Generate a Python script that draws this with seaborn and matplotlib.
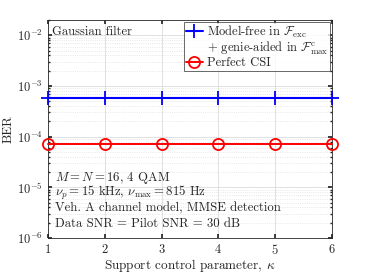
import numpy as np
import pandas as pd
import matplotlib
matplotlib.use('Agg')
import matplotlib.pyplot as plt
import seaborn as sns
from matplotlib.lines import Line2D
from matplotlib.ticker import LogLocator, NullFormatter

# ---- data ----
kappa = [1, 2, 3, 4, 5, 6]
ber_model_free = [5.9e-4, 5.9e-4, 5.9e-4, 5.9e-4, 5.9e-4, 5.9e-4]
ber_perfect = [7.0e-5, 7.0e-5, 7.0e-5, 7.0e-5, 7.0e-5, 7.0e-5]

sns.set_theme(style='ticks')
plt.rcParams['font.family'] = ['serif']
plt.rcParams['font.serif'] = ['cmr10', 'DejaVu Serif']
plt.rcParams['mathtext.fontset'] = 'cm'
plt.rcParams['axes.formatter.use_mathtext'] = True
plt.rcParams['axes.unicode_minus'] = False

df1 = pd.DataFrame({'kappa': kappa, 'ber': ber_model_free})
df2 = pd.DataFrame({'kappa': kappa, 'ber': ber_perfect})

fig = plt.figure(figsize=(3.67, 2.75), dpi=100)
ax = fig.add_axes([48 / 367, 1 - 238 / 275, 284 / 367, 218 / 275])

sns.lineplot(data=df1, x='kappa', y='ber', ax=ax, color='#0000ff', marker='+',
             markersize=10, markeredgewidth=1.3, markeredgecolor='#0000ff',
             linewidth=1.5, clip_on=False,
             label='Model-free in $\\mathcal{F}_{\\rm exc}$', zorder=5)
sns.lineplot(data=df2, x='kappa', y='ber', ax=ax, color='#ff0000', marker='o',
             markersize=8, markerfacecolor='none', markeredgewidth=1.3,
             markeredgecolor='#ff0000', linewidth=1.4, clip_on=False,
             label='Perfect CSI', zorder=5)

ax.set_yscale('log')
ax.set_xlim(1, 6)
ax.set_ylim(1e-6, 2e-2)
ax.set_xticks(kappa)
ax.yaxis.set_major_locator(LogLocator(base=10, numticks=10))
ax.yaxis.set_minor_locator(LogLocator(base=10, subs=np.arange(2, 10), numticks=20))
ax.yaxis.set_minor_formatter(NullFormatter())

ax.grid(True, which='major', color='#dcdcdc', linewidth=0.6)
ax.grid(True, which='minor', axis='y', color='#e0e0e0', linestyle=':', linewidth=0.6)
ax.tick_params(which='both', direction='in', top=True, right=True, labelsize=9,
               colors='#262626', length=3)
ax.tick_params(which='minor', length=1.5)
for s in ax.spines.values():
    s.set_color('#262626')
    s.set_linewidth(0.6)

ax.set_xlabel('Support control parameter, $\\kappa$', fontsize=9.5, labelpad=0)
ax.set_ylabel('BER', fontsize=9.5, labelpad=2)

handles, labels = ax.get_legend_handles_labels()
blank = Line2D([], [], linestyle='none', marker=None)
handles = [handles[0], blank, handles[1]]
labels = [labels[0], '+ genie-aided in $\\mathcal{F}^{\\rm c}_{\\max}$', labels[1]]
leg = ax.legend(handles, labels, loc='upper right', fontsize=9, frameon=True,
                fancybox=False, edgecolor='#262626', handlelength=1.4,
                handletextpad=0.3, borderpad=0.15, labelspacing=0.0,
                borderaxespad=0.15)
leg.get_frame().set_linewidth(0.6)

ax.text(0.015, 0.975, 'Gaussian filter', transform=ax.transAxes, fontsize=9,
        va='top', ha='left')
info = ['$M=N=16$, 4 QAM',
        '$\\nu_p = 15$ kHz, $\\nu_{\\max} = 815$ Hz',
        'Veh. A channel model, MMSE detection',
        'Data SNR = Pilot SNR = 30 dB']
for i, line in enumerate(info):
    ax.text(0.025, 0.277 - i * 0.071, line, transform=ax.transAxes, fontsize=9.2,
            va='center', ha='left')

fig.savefig('out.png', dpi=100)
